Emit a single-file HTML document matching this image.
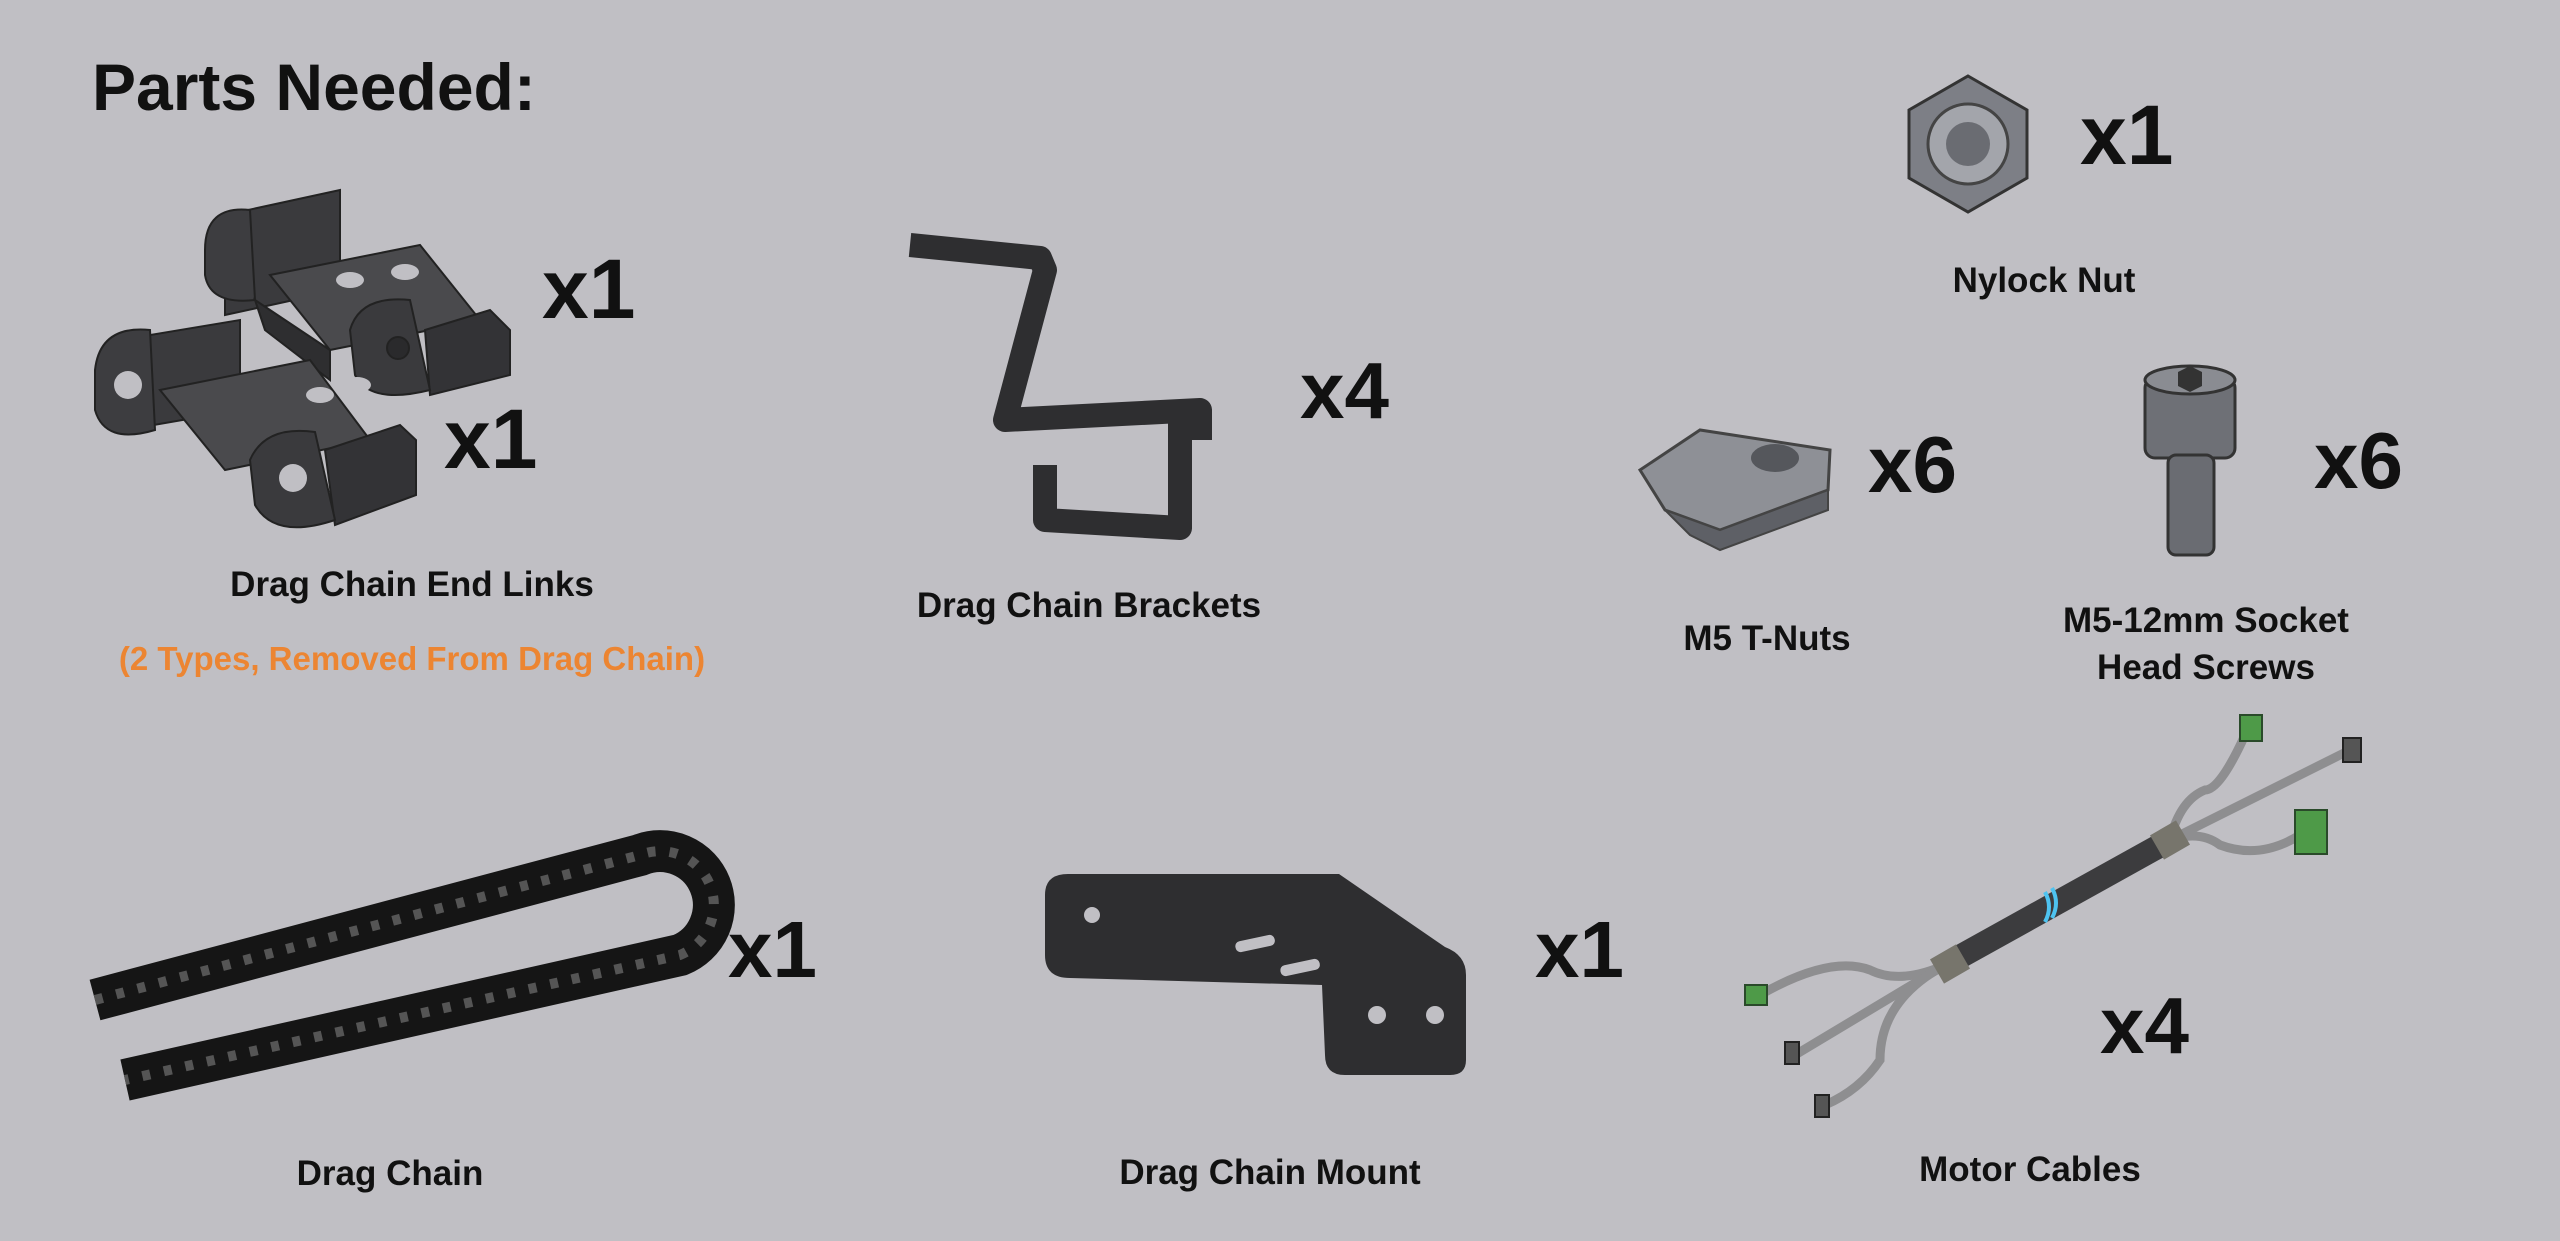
<!DOCTYPE html>
<html><head><meta charset="utf-8"><style>
html,body{margin:0;padding:0;background:#c0bfc4;}
svg{display:block;}
text{font-family:"Liberation Sans",Arial,sans-serif;font-weight:bold;fill:#111;}
</style></head><body>
<svg width="2560" height="1241" viewBox="0 0 2560 1241" xmlns="http://www.w3.org/2000/svg">
<rect width="2560" height="1241" fill="#c0bfc4"/>
<text x="92" y="110" font-size="66">Parts Needed:</text>

<!-- End links -->
<g stroke="#222" stroke-width="2">
  <!-- top link -->
  <polygon points="225,215 340,190 340,290 225,315" fill="#3a3a3d"/>
  <path d="M205,250 Q205,205 250,210 L255,300 Q210,305 205,275 Z" fill="#3d3d40"/>
  <polygon points="270,275 420,245 480,320 330,350" fill="#4a4a4d"/>
  <polygon points="255,300 330,350 330,380 265,330" fill="#2e2e30"/>
  <polygon points="425,330 490,310 510,330 510,375 430,395" fill="#333336"/>
  <path d="M350,330 Q360,295 410,300 L430,390 Q370,405 355,375 Z" fill="#3a3a3d"/>
  <circle cx="398" cy="348" r="11" fill="#2a2a2c"/>
  <!-- bottom link -->
  <polygon points="120,340 240,320 240,410 125,430" fill="#3a3a3d"/>
  <path d="M95,370 Q100,325 150,330 L155,430 Q105,445 95,410 Z" fill="#3d3d40"/>
  <polygon points="160,390 310,360 370,440 225,470" fill="#4a4a4d"/>
  <polygon points="325,450 400,425 416,440 416,495 335,525" fill="#333336"/>
  <path d="M250,460 Q265,425 315,432 L335,520 Q275,540 255,505 Z" fill="#3a3a3d"/>
</g>
<g fill="#c0bfc4"><circle cx="128" cy="385" r="14"/><circle cx="293" cy="478" r="14"/>
<ellipse cx="320" cy="395" rx="14" ry="8"/><ellipse cx="357" cy="385" rx="14" ry="8"/>
<ellipse cx="350" cy="280" rx="14" ry="8"/><ellipse cx="405" cy="272" rx="14" ry="8"/></g>
<text x="542" y="318" font-size="84">x1</text>
<text x="444" y="468" font-size="84">x1</text>
<text x="412" y="596" font-size="35" text-anchor="middle">Drag Chain End Links</text>
<text x="412" y="670" font-size="33" text-anchor="middle" style="fill:#ec8532">(2 Types, Removed From Drag Chain)</text>

<!-- Brackets -->
<g fill="none" stroke="#2e2e30" stroke-width="24" stroke-linejoin="round">
  <path d="M910,245 L1040,258 L1045,270 L1005,420 L1200,410 L1200,440"/>
  <path d="M1045,465 L1045,520 L1180,528 L1180,420"/>
</g>
<text x="1300" y="418" font-size="80">x4</text>
<text x="1089" y="617" font-size="35" text-anchor="middle">Drag Chain Brackets</text>

<!-- Nylock nut -->
<polygon points="1968,76 2027,110 2027,178 1968,212 1909,178 1909,110" fill="#7d7f86" stroke="#333" stroke-width="3"/>
<circle cx="1968" cy="144" r="40" fill="#a3a5ab" stroke="#444" stroke-width="3"/>
<circle cx="1968" cy="144" r="22" fill="#6a6c72"/>
<text x="2080" y="164" font-size="84">x1</text>
<text x="2044" y="292" font-size="35" text-anchor="middle">Nylock Nut</text>

<!-- T nut -->
<polygon points="1640,470 1700,430 1830,450 1828,490 1720,530 1665,510" fill="#8e9096" stroke="#444" stroke-width="3"/>
<polygon points="1665,510 1720,530 1828,490 1828,510 1720,550 1690,535" fill="#5e6066" stroke="#444" stroke-width="2"/>
<ellipse cx="1775" cy="458" rx="24" ry="14" fill="#55575c"/>
<text x="1868" y="492" font-size="80">x6</text>
<text x="1767" y="650" font-size="35" text-anchor="middle">M5 T-Nuts</text>

<!-- Screw -->
<rect x="2145" y="378" width="90" height="80" rx="10" fill="#6e7076" stroke="#333" stroke-width="3"/>
<ellipse cx="2190" cy="380" rx="45" ry="14" fill="#8a8c92" stroke="#333" stroke-width="3"/>
<polygon points="2178,372 2190,366 2202,372 2202,386 2190,392 2178,386" fill="#333"/>
<rect x="2168" y="455" width="46" height="100" rx="8" fill="#6a6c72" stroke="#333" stroke-width="3"/>
<text x="2314" y="488" font-size="80">x6</text>
<text x="2206" y="632" font-size="35" text-anchor="middle">M5-12mm Socket</text>
<text x="2206" y="679" font-size="35" text-anchor="middle">Head Screws</text>

<!-- Drag chain -->
<g fill="none" stroke-linecap="butt">
  <path d="M95,1000 L640,855 A52,52 0 0 1 680,955 L125,1080" stroke="#151515" stroke-width="42"/>
  <path d="M95,1000 L640,855 A52,52 0 0 1 680,955 L125,1080" stroke="#555" stroke-width="10" stroke-dasharray="8 14"/>
</g>
<text x="728" y="977" font-size="80">x1</text>
<text x="390" y="1185" font-size="35" text-anchor="middle">Drag Chain</text>

<!-- Mount -->
<path d="M1045,895 Q1045,874 1068,874 L1339,874 L1445,947 Q1466,955 1466,975 L1466,1060 Q1466,1075 1450,1075 L1345,1075 Q1325,1075 1325,1055 L1322,985 L1070,978 Q1045,978 1045,955 Z" fill="#2e2e30"/>
<g fill="#c0bfc4"><circle cx="1092" cy="915" r="8"/><circle cx="1377" cy="1015" r="9"/><circle cx="1435" cy="1015" r="9"/>
<rect x="1235" y="938" width="40" height="11" rx="5" transform="rotate(-12 1255 943)"/>
<rect x="1280" y="962" width="40" height="11" rx="5" transform="rotate(-12 1300 967)"/></g>
<text x="1535" y="977" font-size="80">x1</text>
<text x="1270" y="1184" font-size="35" text-anchor="middle">Drag Chain Mount</text>

<!-- Motor cables -->
<g fill="none" stroke="#8e8e90" stroke-width="9">
  <path d="M1945,965 Q1900,985 1870,970 Q1830,955 1760,995"/>
  <path d="M1945,965 L1795,1055"/>
  <path d="M1945,965 Q1880,1000 1880,1060 Q1860,1090 1825,1105"/>
  <path d="M2170,840 Q2180,800 2205,790 Q2220,790 2245,735"/>
  <path d="M2170,840 L2350,750"/>
  <path d="M2170,840 Q2200,830 2220,845 Q2260,860 2300,835"/>
</g>
<path d="M1945,965 L2170,840" stroke="#3c3c3e" stroke-width="24"/>
<path d="M2045,892 q8,15 0,30 M2052,888 q8,15 0,30" stroke="#4ec3f0" stroke-width="4" fill="none"/>
<rect x="1935" y="950" width="30" height="28" fill="#77756c" transform="rotate(-30 1950 964)"/>
<rect x="2155" y="826" width="30" height="28" fill="#77756c" transform="rotate(-30 2170 840)"/>
<g fill="#4e9a48" stroke="#2a4a2a" stroke-width="2">
  <rect x="1745" y="985" width="22" height="20"/>
  <rect x="2240" y="715" width="22" height="26"/>
  <rect x="2295" y="810" width="32" height="44"/>
</g>
<g fill="#555" stroke="#222" stroke-width="2">
  <rect x="1785" y="1042" width="14" height="22"/>
  <rect x="1815" y="1095" width="14" height="22"/>
  <rect x="2343" y="738" width="18" height="24"/>
</g>
<text x="2100" y="1053" font-size="80">x4</text>
<text x="2030" y="1181" font-size="35" text-anchor="middle">Motor Cables</text>
</svg>
</body></html>
